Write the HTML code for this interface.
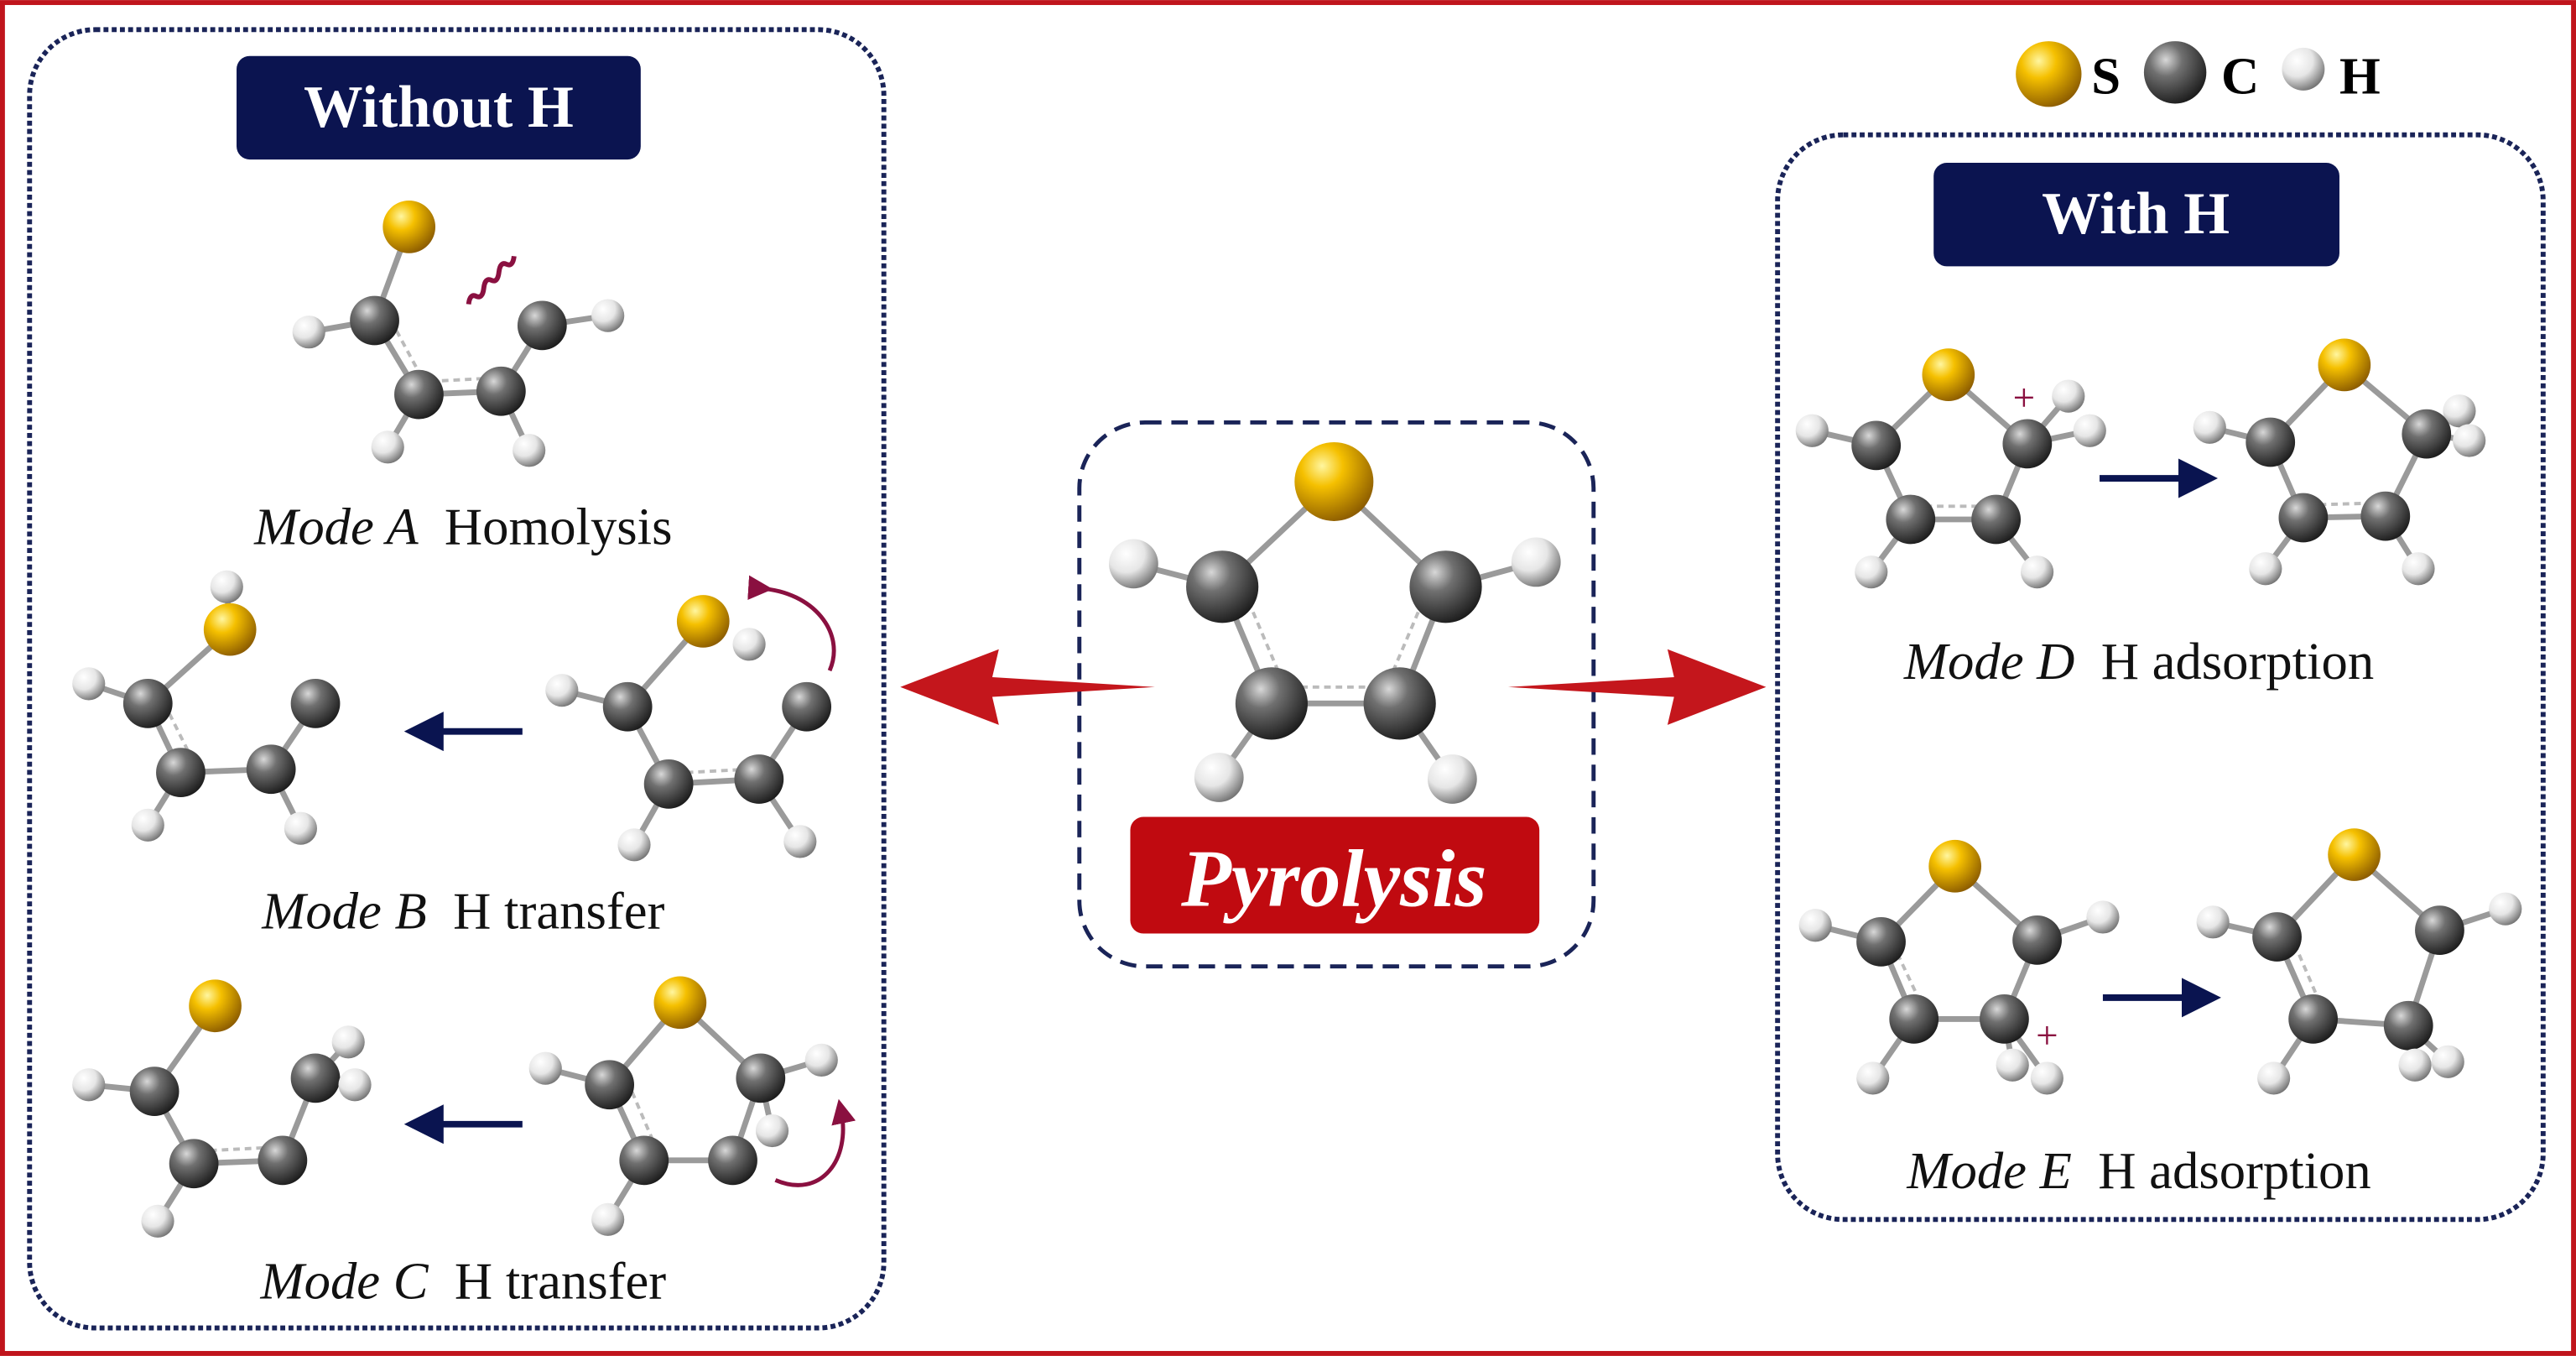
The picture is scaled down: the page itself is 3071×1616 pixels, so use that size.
<!DOCTYPE html>
<html><head><meta charset="utf-8"><style>
html,body{margin:0;padding:0;background:#fff;}
svg{display:block;}
text{font-family:"Liberation Serif",serif;}
</style></head><body>
<svg width="3071" height="1616" viewBox="0 0 1568 825" xmlns="http://www.w3.org/2000/svg">
<defs>
<radialGradient id="gs" cx="0.35" cy="0.3" r="0.75"><stop offset="0" stop-color="#fff6a0"/><stop offset="0.35" stop-color="#f5c000"/><stop offset="1" stop-color="#8a5a00"/></radialGradient>
<radialGradient id="gc" cx="0.35" cy="0.3" r="0.75"><stop offset="0" stop-color="#d8d8d8"/><stop offset="0.35" stop-color="#707070"/><stop offset="1" stop-color="#1a1a1a"/></radialGradient>
<radialGradient id="gh" cx="0.35" cy="0.3" r="0.75"><stop offset="0" stop-color="#ffffff"/><stop offset="0.5" stop-color="#e6e6e6"/><stop offset="1" stop-color="#707070"/></radialGradient>
<marker id="nav" markerWidth="6" markerHeight="6" refX="3" refY="3" orient="auto"><path d="M0,0 L6,3 L0,6 z" fill="#0a1450"/></marker>
<marker id="mar" markerWidth="6" markerHeight="6" refX="3" refY="3" orient="auto"><path d="M0,0 L6,3 L0,6 z" fill="#8a1040"/></marker>
</defs>
<rect x="1.5" y="1.5" width="1565" height="822" fill="#fff" stroke="#c0141c" stroke-width="3"/>

<rect x="18" y="18" width="520" height="790" rx="40" fill="none" stroke="#1a2458" stroke-width="3" stroke-dasharray="3,2"/>
<rect x="657" y="257" width="313" height="331" rx="40" fill="none" stroke="#1a2458" stroke-width="2.5" stroke-dasharray="10,6"/>
<rect x="1082" y="82" width="466" height="660" rx="40" fill="none" stroke="#1a2458" stroke-width="3" stroke-dasharray="3,2"/>

<rect x="144" y="34" width="246" height="63" rx="8" fill="#0b1450"/>
<text x="267" y="77" font-size="36" font-weight="bold" fill="#fff" text-anchor="middle">Without H</text>
<rect x="1177" y="99" width="247" height="63" rx="8" fill="#0b1450"/>
<text x="1300" y="142" font-size="36" font-weight="bold" fill="#fff" text-anchor="middle">With H</text>
<rect x="688" y="497" width="249" height="71" rx="8" fill="#c00a10"/>
<text x="812" y="551" font-size="50" font-weight="bold" font-style="italic" fill="#fff" text-anchor="middle">Pyrolysis</text>

<circle cx="1247" cy="45" r="20" fill="url(#gs)"/>
<text x="1273" y="57" font-size="32" font-weight="bold">S</text>
<circle cx="1324" cy="44" r="19" fill="url(#gc)"/>
<text x="1352" y="57" font-size="32" font-weight="bold">C</text>
<circle cx="1402" cy="42" r="13" fill="url(#gh)"/>
<text x="1424" y="57" font-size="32" font-weight="bold">H</text>

<polygon points="548,418 608,395 604,412 703,418 604,424 608,441" fill="#c4161c"/>
<polygon points="1075,418 1015,395 1019,412 918,418 1019,424 1015,441" fill="#c4161c"/>

<g stroke="#9a9a9a" stroke-width="3.5" fill="none" stroke-linecap="round">
<path d="M812,293 L744,357 M812,293 L880,357 M744,357 L690,343 M880,357 L935,342 M744,357 L774,428 M880,357 L852,428 M774,428 L852,428 M774,428 L742,473 M852,428 L884,474"/>
<path d="M249,138 L228,195 L255,240 L305,238 L330,198 L370,192 M228,195 L188,202 M255,240 L236,272 M305,238 L322,274"/>
<path d="M140,383 L138,357 M140,383 L90,428 L110,470 L165,468 L192,428 M90,428 L54,416 M110,470 L90,502 M165,468 L183,504"/>
<path d="M428,378 L382,430 L407,477 L462,474 L491,430 M382,430 L342,420 M407,477 L386,514 M462,474 L487,512"/>
<path d="M131,612 L94,664 L118,708 L172,706 L192,656 L212,634 M192,656 L216,660 M94,664 L54,660 M118,708 L96,743"/>
<path d="M414,610 L371,660 L392,706 L446,706 L463,656 L414,610 M371,660 L332,650 M392,706 L370,742 M463,656 L500,645 M463,656 L470,688"/>
<path d="M1186,228 L1142,271 L1163,316 L1215,316 L1234,270 L1186,228 M1142,271 L1103,262 M1234,270 L1259,241 M1234,270 L1272,262 M1163,316 L1139,348 M1215,316 L1240,348"/>
<path d="M1427,222 L1382,269 L1402,315 L1452,314 L1477,264 L1427,222 M1382,269 L1345,260 M1477,264 L1497,250 M1477,264 L1503,268 M1402,315 L1379,346 M1452,314 L1472,346"/>
<path d="M1190,527 L1145,573 L1165,620 L1220,620 L1240,572 L1190,527 M1145,573 L1105,563 M1240,572 L1280,558 M1165,620 L1140,656 M1220,620 L1225,648 M1220,620 L1246,656"/>
<path d="M1433,520 L1386,570 L1408,620 L1466,624 L1485,566 L1433,520 M1386,570 L1347,561 M1485,566 L1525,553 M1408,620 L1384,656 M1466,624 L1470,648 M1466,624 L1490,646"/>
</g>
<g stroke="#bbb" stroke-width="2" stroke-dasharray="4,3" fill="none">
<path d="M785,418 L843,418 M760,366 L783,420 M866,366 L843,420"/>
<path d="M262,232 L300,230 M238,195 L258,232"/>
<path d="M100,428 L118,464 M418,470 L456,468 M128,700 L168,698 M382,658 L400,700 M1172,308 L1210,308 M1152,574 L1170,612 M1412,307 L1448,306 M1394,568 L1412,610"/>
</g>

<g>
<circle cx="690" cy="343" r="15" fill="url(#gh)"/><circle cx="935" cy="342" r="15" fill="url(#gh)"/>
<circle cx="742" cy="473" r="15" fill="url(#gh)"/><circle cx="884" cy="474" r="15" fill="url(#gh)"/>
<circle cx="744" cy="357" r="22" fill="url(#gc)"/><circle cx="880" cy="357" r="22" fill="url(#gc)"/>
<circle cx="774" cy="428" r="22" fill="url(#gc)"/><circle cx="852" cy="428" r="22" fill="url(#gc)"/>
<circle cx="812" cy="293" r="24" fill="url(#gs)"/>
<circle cx="188" cy="202" r="10" fill="url(#gh)"/><circle cx="236" cy="272" r="10" fill="url(#gh)"/><circle cx="322" cy="274" r="10" fill="url(#gh)"/><circle cx="370" cy="192" r="10" fill="url(#gh)"/>
<circle cx="228" cy="195" r="15" fill="url(#gc)"/><circle cx="255" cy="240" r="15" fill="url(#gc)"/><circle cx="305" cy="238" r="15" fill="url(#gc)"/><circle cx="330" cy="198" r="15" fill="url(#gc)"/>
<circle cx="249" cy="138" r="16" fill="url(#gs)"/>
<circle cx="138" cy="357" r="10" fill="url(#gh)"/><circle cx="54" cy="416" r="10" fill="url(#gh)"/><circle cx="90" cy="502" r="10" fill="url(#gh)"/><circle cx="183" cy="504" r="10" fill="url(#gh)"/>
<circle cx="90" cy="428" r="15" fill="url(#gc)"/><circle cx="110" cy="470" r="15" fill="url(#gc)"/><circle cx="165" cy="468" r="15" fill="url(#gc)"/><circle cx="192" cy="428" r="15" fill="url(#gc)"/>
<circle cx="140" cy="383" r="16" fill="url(#gs)"/>
<circle cx="342" cy="420" r="10" fill="url(#gh)"/><circle cx="386" cy="514" r="10" fill="url(#gh)"/><circle cx="487" cy="512" r="10" fill="url(#gh)"/>
<circle cx="382" cy="430" r="15" fill="url(#gc)"/><circle cx="407" cy="477" r="15" fill="url(#gc)"/><circle cx="462" cy="474" r="15" fill="url(#gc)"/><circle cx="491" cy="430" r="15" fill="url(#gc)"/>
<circle cx="428" cy="378" r="16" fill="url(#gs)"/><circle cx="456" cy="392" r="10" fill="url(#gh)"/>
<circle cx="54" cy="660" r="10" fill="url(#gh)"/><circle cx="96" cy="743" r="10" fill="url(#gh)"/><circle cx="212" cy="634" r="10" fill="url(#gh)"/>
<circle cx="94" cy="664" r="15" fill="url(#gc)"/><circle cx="118" cy="708" r="15" fill="url(#gc)"/><circle cx="172" cy="706" r="15" fill="url(#gc)"/><circle cx="192" cy="656" r="15" fill="url(#gc)"/>
<circle cx="216" cy="660" r="10" fill="url(#gh)"/>
<circle cx="131" cy="612" r="16" fill="url(#gs)"/>
<circle cx="332" cy="650" r="10" fill="url(#gh)"/><circle cx="370" cy="742" r="10" fill="url(#gh)"/><circle cx="500" cy="645" r="10" fill="url(#gh)"/>
<circle cx="371" cy="660" r="15" fill="url(#gc)"/><circle cx="392" cy="706" r="15" fill="url(#gc)"/><circle cx="446" cy="706" r="15" fill="url(#gc)"/><circle cx="463" cy="656" r="15" fill="url(#gc)"/>
<circle cx="470" cy="688" r="10" fill="url(#gh)"/>
<circle cx="414" cy="610" r="16" fill="url(#gs)"/>
<circle cx="1103" cy="262" r="10" fill="url(#gh)"/><circle cx="1259" cy="241" r="10" fill="url(#gh)"/><circle cx="1139" cy="348" r="10" fill="url(#gh)"/><circle cx="1240" cy="348" r="10" fill="url(#gh)"/>
<circle cx="1142" cy="271" r="15" fill="url(#gc)"/><circle cx="1163" cy="316" r="15" fill="url(#gc)"/><circle cx="1215" cy="316" r="15" fill="url(#gc)"/><circle cx="1234" cy="270" r="15" fill="url(#gc)"/>
<circle cx="1272" cy="262" r="10" fill="url(#gh)"/>
<circle cx="1186" cy="228" r="16" fill="url(#gs)"/>
<circle cx="1345" cy="260" r="10" fill="url(#gh)"/><circle cx="1497" cy="250" r="10" fill="url(#gh)"/><circle cx="1379" cy="346" r="10" fill="url(#gh)"/><circle cx="1472" cy="346" r="10" fill="url(#gh)"/>
<circle cx="1382" cy="269" r="15" fill="url(#gc)"/><circle cx="1402" cy="315" r="15" fill="url(#gc)"/><circle cx="1452" cy="314" r="15" fill="url(#gc)"/><circle cx="1477" cy="264" r="15" fill="url(#gc)"/>
<circle cx="1503" cy="268" r="10" fill="url(#gh)"/>
<circle cx="1427" cy="222" r="16" fill="url(#gs)"/>
<circle cx="1105" cy="563" r="10" fill="url(#gh)"/><circle cx="1280" cy="558" r="10" fill="url(#gh)"/><circle cx="1140" cy="656" r="10" fill="url(#gh)"/>
<circle cx="1145" cy="573" r="15" fill="url(#gc)"/><circle cx="1165" cy="620" r="15" fill="url(#gc)"/><circle cx="1220" cy="620" r="15" fill="url(#gc)"/><circle cx="1240" cy="572" r="15" fill="url(#gc)"/>
<circle cx="1225" cy="648" r="10" fill="url(#gh)"/><circle cx="1246" cy="656" r="10" fill="url(#gh)"/>
<circle cx="1190" cy="527" r="16" fill="url(#gs)"/>
<circle cx="1347" cy="561" r="10" fill="url(#gh)"/><circle cx="1525" cy="553" r="10" fill="url(#gh)"/><circle cx="1384" cy="656" r="10" fill="url(#gh)"/>
<circle cx="1386" cy="570" r="15" fill="url(#gc)"/><circle cx="1408" cy="620" r="15" fill="url(#gc)"/><circle cx="1466" cy="624" r="15" fill="url(#gc)"/><circle cx="1485" cy="566" r="15" fill="url(#gc)"/>
<circle cx="1470" cy="648" r="10" fill="url(#gh)"/><circle cx="1490" cy="646" r="10" fill="url(#gh)"/>
<circle cx="1433" cy="520" r="16" fill="url(#gs)"/>
</g>

<text x="1232" y="250" font-size="24" fill="#8a1040" text-anchor="middle">+</text>
<text x="1246" y="638" font-size="24" fill="#8a1040" text-anchor="middle">+</text>
<path d="M278,180 q3,-6 6,-3 t6,-3 t6,-3 t6,-3 t6,-3 t6,-3" stroke="#8a1040" stroke-width="3" fill="none" transform="rotate(-20 296 162)"/>
<path d="M463,358 C495,360 515,385 505,408" stroke="#8a1040" stroke-width="2.5" fill="none" marker-start="url(#mar)"/>
<path d="M472,718 C500,730 518,705 512,676" stroke="#8a1040" stroke-width="2.5" fill="none" marker-end="url(#mar)"/>

<g stroke="#0a1450" stroke-width="4" fill="none">
<path d="M318,445 L258,445" marker-end="url(#nav)"/>
<path d="M318,684 L258,684" marker-end="url(#nav)"/>
<path d="M1278,291 L1338,291" marker-end="url(#nav)"/>
<path d="M1280,607 L1340,607" marker-end="url(#nav)"/>
</g>

<g font-size="32" fill="#111" text-anchor="middle">
<text x="282" y="331"><tspan font-style="italic">Mode A</tspan>&#160;&#160;Homolysis</text>
<text x="282" y="565"><tspan font-style="italic">Mode B</tspan>&#160;&#160;H transfer</text>
<text x="282" y="790"><tspan font-style="italic">Mode C</tspan>&#160;&#160;H transfer</text>
<text x="1302" y="413"><tspan font-style="italic">Mode D</tspan>&#160;&#160;H adsorption</text>
<text x="1302" y="723"><tspan font-style="italic">Mode E</tspan>&#160;&#160;H adsorption</text>
</g>
</svg>
</body></html>
